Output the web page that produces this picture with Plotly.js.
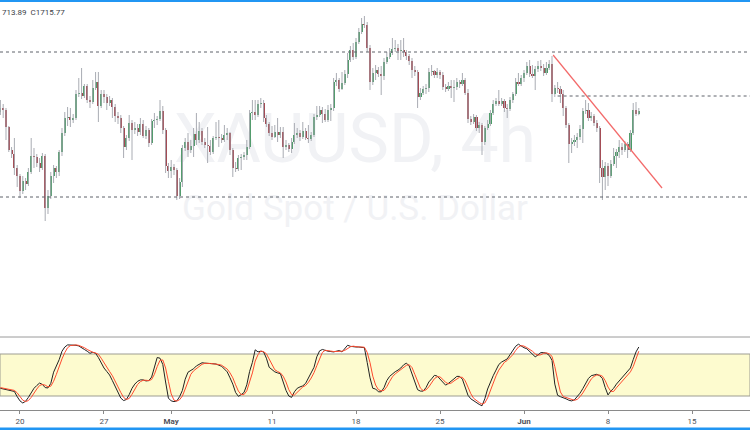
<!DOCTYPE html>
<html>
<head>
<meta charset="utf-8">
<script src="https://cdn.plot.ly/plotly-3.0.1.min.js"></script>
<style>
  html, body { margin:0; padding:0; background:#ffffff; }
  #wrap { position:relative; width:750px; height:430px; overflow:hidden; }
  .wm { position:absolute; left:0; width:710px; text-align:center; font-family:Roboto, Arial, sans-serif; color:#f1f2f5; white-space:nowrap; }
  #chart { position:absolute; left:0; top:0; width:750px; height:430px; }
</style>
</head>
<body>
<div id="wrap">
  <div class="wm" style="top:105px;font-size:68px;line-height:68px;">XAUUSD, 4h</div>
  <div class="wm" style="top:191px;font-size:35px;line-height:35px;">Gold Spot / U.S. Dollar</div>
  <div id="chart"></div>
</div>
<script>
// ---- Data (4h candles, index 0 = Apr 17) ----
const open = [
1715.5,1717.5,1716.5,1708,1696.5,1694.5,1687.5,1683.5,1676,1681,
1679.5,1685.5,1693.5,1693,1690,1687.5,1693.5,1667.5,1673.5,1683.5,
1687.5,1685.5,1695.5,1705,1712.5,1713,1711.5,1712.5,1724.5,1725,
1723.5,1728.5,1721.5,1720.5,1727.5,1730.5,1718.5,1724.5,1723,1720,
1721.5,1718,1713.5,1712.5,1707.5,1698,1702.5,1710,1706.5,1707.5,
1705.5,1709.5,1703.5,1706.5,1700,1711,1711.5,1712,1716,1706.5,
1688.5,1686,1688,1686.5,1673.5,1680.5,1697.5,1700.5,1696.5,1698.5,
1704.5,1701.5,1706,1700.5,1699,1698.5,1695.5,1702.5,1703,1702.5,
1701.5,1704,1705,1696.5,1687.5,1687,1692.5,1693,1694,1698,
1715,1715.5,1714,1719.5,1720,1712.5,1709.5,1705,1703,1705.5,
1704,1705.5,1698,1699,1697,1700.5,1704,1705,1703,1706,
1702.5,1702,1704,1713,1714,1716.5,1714.5,1711.5,1716.5,1717.5,
1730.5,1731.5,1727,1730,1734.5,1741.5,1746.5,1743,1750.5,1755.5,
1759.5,1759,1747.5,1730.5,1735,1736.5,1734.5,1733.5,1740.5,1743,
1745,1747,1747.5,1746,1746.5,1745.5,1743.5,1741,1736.5,1735.5,
1723,1725,1727,1727.5,1735.5,1736,1734,1735.5,1734,1728,
1727,1728.5,1727.5,1728,1730.5,1729.5,1731.5,1725,1712,1710.5,
1713,1707.5,1709,1700.5,1707.5,1709.5,1715,1719.5,1721,1719.5,
1721,1717.5,1717,1721.5,1724.5,1730.5,1729.5,1732.5,1735,1738.5,
1734.5,1733.5,1737,1738.5,1737.5,1735,1737.5,1739.5,1724.5,1727.5,
1727,1724.5,1717.5,1709,1699.5,1700.5,1701.5,1703,1707,1716,
1716.5,1712.5,1713.5,1710,1707.5,1687.5,1683,1688.5,1683.5,1689.5,
1693.5,1695.5,1698,1696.5,1699.5,1696.5,1705,1716.5,1714.5];
const high = [
1721.5,1719.5,1717.5,1708.5,1698,1702.5,1689,1684.5,1683.5,1682.5,
1687.5,1702.5,1697.5,1694.5,1692.5,1695,1694.5,1676.5,1685.5,1689,
1688.5,1696.5,1707.5,1715.5,1718,1717.5,1714.5,1726.5,1732.5,1737.5,
1729.5,1729.5,1723.5,1731.5,1735.5,1735.5,1726.5,1726.5,1724.5,1723.5,
1722.5,1719.5,1715.5,1714,1708.5,1704,1714,1711.5,1710.5,1709.5,
1712.5,1711.5,1708.5,1707.5,1712,1715,1713.5,1721.5,1718.5,1707.5,
1690,1691.5,1689.5,1687.5,1682.5,1699,1702.5,1705,1701.5,1707.5,
1715,1710.5,1707.5,1702.5,1708,1701.5,1703.5,1710.5,1711.5,1704.5,
1709,1707.5,1705.5,1697.5,1690.5,1694,1694.5,1695.5,1701.5,1716.5,
1721.5,1721.5,1721.5,1722.5,1721.5,1714,1710.5,1708.5,1709,1712.5,
1708,1708,1701.5,1700,1702.5,1710,1707.5,1706.5,1710.5,1707.5,
1709,1705.5,1714.5,1718.5,1718.5,1718,1717,1719,1719.5,1732.5,
1735,1732.5,1735.5,1736.5,1745,1748.5,1750,1752.5,1757.5,1762.5,
1763.5,1760.5,1749,1737.5,1739,1738,1738.5,1742.5,1745.5,1747.5,
1752.5,1751.5,1749.5,1751.5,1752.5,1746.5,1744.5,1742.5,1738.5,1736.5,
1727.5,1728.5,1729.5,1737.5,1739,1736.5,1737.5,1736.5,1735.5,1729.5,
1730.5,1731.5,1731.5,1732.5,1731.5,1735,1732.5,1727,1713.5,1714.5,
1714,1710.5,1710,1708.5,1711.5,1716.5,1721.5,1722.5,1726.5,1722.5,
1722,1719.5,1723,1725.5,1732.5,1735,1734,1736.5,1740.5,1741.5,
1739,1738.5,1741,1741.5,1739.5,1740.5,1741.5,1743.5,1729,1730.5,
1728.5,1726.5,1718.5,1710,1702.5,1704,1705,1709,1717.5,1721.5,
1720,1715.5,1714.5,1711.5,1708.5,1691.5,1690.5,1690,1691.5,1697.5,
1697,1701.5,1700,1701,1700.5,1706.5,1720,1720.5,1717.5];
const low = [
1714,1712.5,1701.5,1695.5,1692.5,1684,1678,1672.5,1674.5,1676.5,
1678.5,1684.5,1687.5,1688,1685.5,1686.5,1661,1664.5,1672,1680,
1682.5,1683.5,1693.5,1703.5,1708.5,1708,1710,1711.5,1723,1722,
1722.5,1720,1717.5,1719.5,1726.5,1710.5,1717.5,1720,1716.5,1718.5,
1712.5,1710.5,1709.5,1705,1692.5,1696.5,1701,1691.5,1704.5,1703.5,
1704,1702.5,1702,1698,1699,1707.5,1709,1711,1704.5,1685,
1682.5,1682.5,1684,1671.5,1672,1678,1696,1693,1695,1693,
1699,1700,1699,1697.5,1690,1694,1694.5,1701.5,1698,1700,
1700.5,1701.5,1694,1683,1685.5,1686,1686.5,1691.5,1691.5,1697,
1711.5,1711.5,1713,1717.5,1710.5,1708,1703.5,1701.5,1702.5,1700.5,
1702.5,1692.5,1696.5,1695.5,1695,1699.5,1702.5,1701,1702,1701.5,
1700,1701,1703,1711.5,1713,1710,1710.5,1710.5,1711,1716,
1728.5,1725.5,1726.5,1729,1732.5,1740.5,1741.5,1742,1749.5,1754.5,
1757.5,1745.5,1726.5,1729,1731.5,1733,1724,1731.5,1739.5,1742,
1744,1745.5,1741.5,1741.5,1743,1741.5,1739,1732.5,1733.5,1717.5,
1721.5,1724,1724.5,1725.5,1733.5,1732.5,1732.5,1732,1726.5,1725.5,
1726,1722.5,1720.5,1726.5,1727.5,1728.5,1724,1710,1709,1709.5,
1706,1705,1694,1699,1706.5,1708.5,1714,1718.5,1718.5,1718.5,
1715.5,1712.5,1716,1720,1723.5,1728.5,1728.5,1730.5,1734,1733,
1732.5,1726.5,1735.5,1736,1733.5,1734,1736.5,1720.5,1723,1725,
1720,1713.5,1707.5,1690,1695,1698.5,1697.5,1701.5,1700,1714.5,
1711,1711,1708.5,1705.5,1680,1671.5,1676.5,1678.5,1682.5,1688.5,
1687.5,1692.5,1694,1695.5,1692.5,1695.5,1704,1713.5,1713.89];
const close = [
1717.5,1716.5,1708,1696.5,1694.5,1687.5,1683.5,1676,1681,1679.5,
1685.5,1693.5,1693,1690,1687.5,1693.5,1667.5,1673.5,1683.5,1687.5,
1685.5,1695.5,1705,1712.5,1713,1711.5,1712.5,1724.5,1725,1723.5,
1728.5,1721.5,1720.5,1727.5,1730.5,1718.5,1724.5,1723,1720,1721.5,
1718,1713.5,1712.5,1707.5,1698,1702.5,1710,1706.5,1707.5,1705.5,
1709.5,1703.5,1706.5,1700,1711,1711.5,1712,1716,1706.5,1688.5,
1686,1688,1686.5,1673.5,1680.5,1697.5,1700.5,1696.5,1698.5,1704.5,
1701.5,1706,1700.5,1699,1698.5,1695.5,1702.5,1703,1702.5,1701.5,
1704,1705,1696.5,1687.5,1687,1692.5,1693,1694,1698,1715,
1715.5,1714,1719.5,1720,1712.5,1709.5,1705,1703,1705.5,1704,
1705.5,1698,1699,1697,1700.5,1704,1705,1703,1706,1702.5,
1702,1704,1713,1714,1716.5,1714.5,1711.5,1716.5,1717.5,1730.5,
1731.5,1727,1730,1734.5,1741.5,1746.5,1743,1750.5,1755.5,1759.5,
1759,1747.5,1730.5,1735,1736.5,1734.5,1733.5,1740.5,1743,1745,
1747,1747.5,1746,1746.5,1745.5,1743.5,1741,1736.5,1735.5,1723,
1725,1727,1727.5,1735.5,1736,1734,1735.5,1734,1728,1727,
1728.5,1727.5,1728,1730.5,1729.5,1731.5,1725,1712,1710.5,1713,
1707.5,1709,1700.5,1707.5,1709.5,1715,1719.5,1721,1719.5,1721,
1717.5,1717,1721.5,1724.5,1730.5,1729.5,1732.5,1735,1738.5,1734.5,
1733.5,1737,1738.5,1737.5,1735,1737.5,1739.5,1724.5,1727.5,1727,
1724.5,1717.5,1709,1699.5,1700.5,1701.5,1703,1707,1716,1716.5,
1712.5,1713.5,1710,1707.5,1687.5,1683,1688.5,1683.5,1689.5,1693.5,
1695.5,1698,1696.5,1699.5,1696.5,1705,1716.5,1714.5,1715.77];

// Stochastic %K (black) and %D (red)
const stochK = [
31,30,29.5,29,28,26.5,19,13,10,12.5,
18,24,31,35,38.5,36.5,32,31.5,38,54,
62,72,84,90,93,93,93,92.5,91.5,89.5,
86.5,84,81,82.5,81,75,67,60,55,50,
42,34,24,17,13.5,15,22,31,37,41,
43,43,41.5,42,47,63,75,74,65,40,
17,13,12,13,19,28,44,54,56,59,
63,65.5,67.5,67,66.5,66,65.5,65.7,64,62.5,
58.5,54.5,46,37,25,19.5,22,25,36,55,
68,86,83,84,83,74,61,57,54.5,53,
52,40,28,20,18,26,31,33,34.5,38,
46,53,61,76,84.5,86.5,85,84,83.5,83,
84,85,83,87.5,92.5,91,90,90,90,90,
89,68,46,31,30,26,26,32,42,48,
52,54.7,57,60,64.5,67,63,52,38,29,
27,27,32,40,44.5,49.5,48.5,44,39,35.5,
38,42,44.5,48,48,44,33,21,16,13,
11,8,6,16,30,40,49,57,65,68.5,
71,73,79,85,91,94,91,89,87.5,84,
80.5,76,78.6,82,82,81,78,71,37,21,
19,18,16,14,13,14.5,18.5,24,30.5,38.5,
45,49,50,51,49,45,32,21.5,27,31,
37,41.5,45,49.5,54,60,72,83,90];
const stochD = [
32,31,30,29.5,29,28,24.5,19.5,14,12,
13.5,18,24.5,30,35,36.5,35.5,33,34,41,
51,63,73,82,89,92,93,93,92.3,91,
89,86.5,84,82.5,81.5,79.5,74,67,61,55,
49,42,33,25,18,15,16.5,22.5,30,36.5,
40.5,42.5,42.5,42,43.5,51,62,71,71.5,60,
41,23,14,12.7,14.7,20,30,42,51,56,
59,62.5,65.3,66.7,67,66.5,66,65.7,65,64,
61.7,58.5,53,46,36,27,22,22,27.5,39,
53,70,79,84.3,83.3,80.3,72.7,64,57.5,55,
53,48.3,40,29,22,21.3,25,30,33,35,
39.5,45.7,53.3,63.3,73.8,82.3,85.3,85.2,84.2,83.5,
83.5,84,84,85.2,87.7,90.3,91.2,90.3,90,90,
89.7,82.3,67.7,48.3,35.7,29,27.3,28,33.3,40.7,
47.3,51.6,54.6,57.2,60.5,63.8,64.8,60.7,51,39.7,
31.3,27.7,28.7,33,38.8,44.7,47.5,47.3,43.8,39.5,
37.5,38.5,41.5,44.8,46.8,46.7,41.7,32.7,23.3,16.7,
13.3,10.7,8.3,10,17.3,28.7,39.7,48.7,57,63.5,
68.2,70.8,74.3,79,85,90,92,91.3,89.2,86.8,
84,80.2,78.4,78.9,80.9,81.7,80.3,76.7,62,43,
25.7,19.3,17.7,16,14.3,13.8,15.2,19,24.3,31,
38,44.2,48,50,50,48.3,42,32.8,26.8,26.5,
31.7,36.5,41.2,45.3,49.5,54.5,62,71.7,84];

// Time axis labels (bar index of each date)
const tickIdx = [7, 37, 61, 97, 127, 157, 187, 217, 247];
const tickText = ['20', '27', '<b>May</b>', '11', '18', '25', '<b>Jun</b>', '8', '15'];

// Drawn levels / trendline
const hLevels = [1745.5, 1673];
const resistLevel = 1723.5, resistStartIdx = 199;
const trendIdx = [197.4, 236.3];
const trendPrice = [1744, 1677.5];
const stochBands = [20, 80];
const legendText = '713.89  C1715.77';

// ---- Build traces ----
const idx = close.map((_, i) => i);
const wx = [], wy = [];
idx.forEach(i => { wx.push(i, i, null); wy.push(low[i], high[i], null); });
const bodyBase = idx.map(i => Math.min(open[i], close[i]));
const bodyLen = idx.map(i => Math.max(Math.abs(close[i] - open[i]), 0.45));
const bodyCol = idx.map(i => close[i] >= open[i] ? '#4a9b66' : '#a3424b');

const traces = [
  { type:'scatter', mode:'lines', x:wx, y:wy, xaxis:'x', yaxis:'y',
    line:{color:'#a9acb3', width:1}, hoverinfo:'skip', connectgaps:false },
  { type:'bar', x:idx, y:bodyLen, base:bodyBase, width:0.78, xaxis:'x', yaxis:'y',
    marker:{color:bodyCol, line:{width:0}}, hoverinfo:'skip' },
  { type:'scatter', mode:'lines', x:trendIdx, y:trendPrice, xaxis:'x', yaxis:'y',
    line:{color:'#f36a6a', width:1.2}, hoverinfo:'skip' },
  { type:'scatter', mode:'lines', x:idx, y:stochK, xaxis:'x', yaxis:'y2',
    line:{color:'#222222', width:1}, hoverinfo:'skip' },
  { type:'scatter', mode:'lines', x:idx, y:stochD, xaxis:'x', yaxis:'y2',
    line:{color:'#ff4a2e', width:1}, hoverinfo:'skip' }
];

const dashStyle = {color:'#5f626b', width:1, dash:'3px,3px'};
const shapes = [];
hLevels.forEach(v => shapes.push({type:'line', xref:'paper', x0:0, x1:1, yref:'y', y0:v, y1:v, line:dashStyle, layer:'above'}));
shapes.push({type:'line', xref:'x', x0:resistStartIdx, x1:268, yref:'y', y0:resistLevel, y1:resistLevel, line:dashStyle, layer:'above'});
// stochastic band
shapes.push({type:'rect', xref:'paper', x0:0, x1:1, yref:'y2', y0:stochBands[0], y1:stochBands[1],
  fillcolor:'#fdfbcf', line:{color:'#9d9d92', width:1}, layer:'below'});
// pane separator
shapes.push({type:'line', xref:'paper', x0:0, x1:1, yref:'paper', y0:93/430, y1:93/430, line:{color:'#9a9a9a', width:1}});
// top & bottom blue frame bars
shapes.push({type:'rect', xref:'paper', x0:0, x1:1, yref:'paper', y0:428/430, y1:1, fillcolor:'#2196f3', line:{width:0}});
shapes.push({type:'rect', xref:'paper', x0:0, x1:1, yref:'paper', y0:0, y1:2.5/430, fillcolor:'#2196f3', line:{width:0}});

const layout = {
  width:750, height:430,
  margin:{l:0, r:0, t:0, b:0},
  paper_bgcolor:'rgba(0,0,0,0)', plot_bgcolor:'rgba(0,0,0,0)',
  showlegend:false, bargap:0,
  xaxis:{range:[-0.14, 267.71], anchor:'y2', tickmode:'array', tickvals:tickIdx, ticktext:tickText,
    ticks:'outside', ticklen:3, tickcolor:'#8a8a8a', showline:true, linecolor:'#8a8a8a', linewidth:1,
    showgrid:false, zeroline:false, fixedrange:true,
    tickfont:{family:'Roboto, Arial, sans-serif', size:8, color:'#4e515a'}},
  yaxis:{domain:[94/430, 1], range:[1603.5, 1771.5], visible:false, fixedrange:true},
  yaxis2:{domain:[20/430, 93/430], range:[0, 104.3], visible:false, fixedrange:true},
  shapes:shapes,
  annotations:[{xref:'paper', yref:'paper', x:0, y:1-12/430, xanchor:'left', yanchor:'middle',
    text:legendText, showarrow:false, font:{family:'Roboto, Arial, sans-serif', size:8, color:'#3c3f47'}}]
};

Plotly.newPlot('chart', traces, layout, {staticPlot:true, displayModeBar:false});
</script>
</body>
</html>
